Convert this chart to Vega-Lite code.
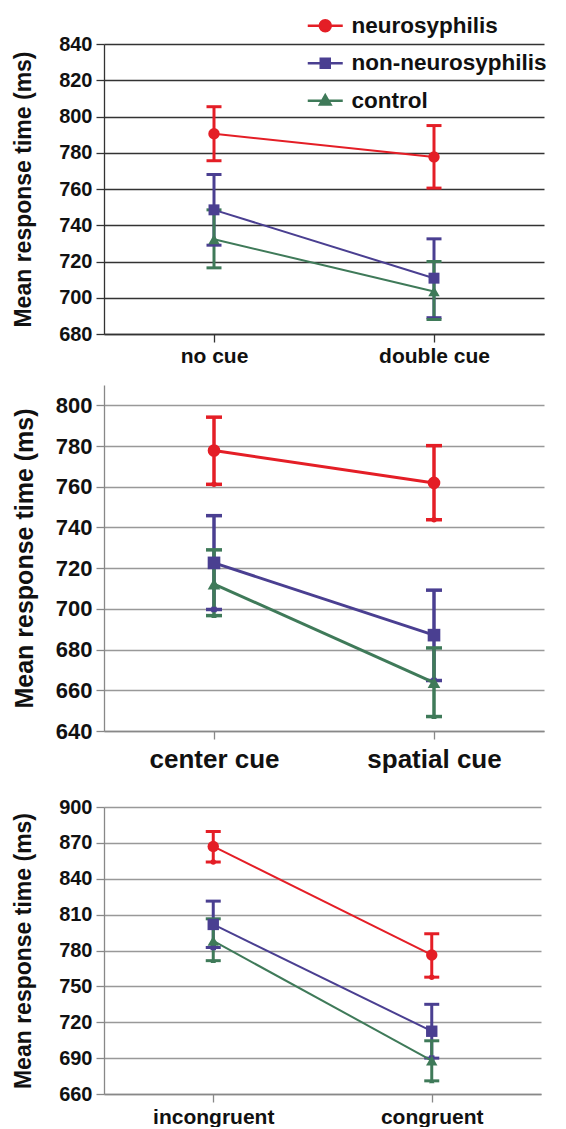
{
  "$schema": "https://vega.github.io/schema/vega-lite/v6.json",
  "background": "white",
  "padding": {"left": 11, "top": 14, "right": 0, "bottom": 0},
  "spacing": 19,
  "config": {"font": "Liberation Sans", "view": {"stroke": null}},
  "datasets": {
    "d": [
      {"panel": "A", "cond": "no cue", "group": "neurosyphilis", "mean": 790.5, "lo": 775.6, "hi": 805.4},
      {"panel": "A", "cond": "double cue", "group": "neurosyphilis", "mean": 777.7, "lo": 760.5, "hi": 795},
      {"panel": "A", "cond": "no cue", "group": "non-neurosyphilis", "mean": 748.5, "lo": 729, "hi": 768},
      {"panel": "A", "cond": "double cue", "group": "non-neurosyphilis", "mean": 710.8, "lo": 689, "hi": 732.5},
      {"panel": "A", "cond": "no cue", "group": "control", "mean": 732.3, "lo": 716.5, "hi": 748.5},
      {"panel": "A", "cond": "double cue", "group": "control", "mean": 703.5, "lo": 688, "hi": 720},
      {"panel": "B", "cond": "center cue", "group": "neurosyphilis", "mean": 777.8, "lo": 761.2, "hi": 794.2},
      {"panel": "B", "cond": "spatial cue", "group": "neurosyphilis", "mean": 761.9, "lo": 743.8, "hi": 780.2},
      {"panel": "B", "cond": "center cue", "group": "non-neurosyphilis", "mean": 722.6, "lo": 699.7, "hi": 745.8},
      {"panel": "B", "cond": "spatial cue", "group": "non-neurosyphilis", "mean": 687.1, "lo": 664.8, "hi": 709.2},
      {"panel": "B", "cond": "center cue", "group": "control", "mean": 712.2, "lo": 696.7, "hi": 729},
      {"panel": "B", "cond": "spatial cue", "group": "control", "mean": 663.8, "lo": 647.1, "hi": 680.8},
      {"panel": "C", "cond": "incongruent", "group": "neurosyphilis", "mean": 867, "lo": 854, "hi": 879.5},
      {"panel": "C", "cond": "congruent", "group": "neurosyphilis", "mean": 776.3, "lo": 757.7, "hi": 794},
      {"panel": "C", "cond": "incongruent", "group": "non-neurosyphilis", "mean": 801.8, "lo": 782.5, "hi": 821.3},
      {"panel": "C", "cond": "congruent", "group": "non-neurosyphilis", "mean": 712.5, "lo": 690, "hi": 735},
      {"panel": "C", "cond": "incongruent", "group": "control", "mean": 788, "lo": 771.5, "hi": 806.5},
      {"panel": "C", "cond": "congruent", "group": "control", "mean": 688, "lo": 671, "hi": 704.5}
    ]
  },
  "resolve": {"legend": {"color": "independent", "shape": "independent"}},
  "vconcat": [
    {
      "width": 440,
      "height": 290,
      "data": {"name": "d"},
      "transform": [{"filter": "datum.panel === 'A'"}],
      "encoding": {
        "x": {"field": "cond", "type": "nominal", "sort": ["no cue", "double cue"],
          "scale": {"type": "point", "padding": 0.5},
          "axis": {"title": null, "labelAngle": 0, "labelFontSize": 21, "labelFontWeight": "bold", "labelColor": "#111", "domainColor": "#333", "domainWidth": 1.3, "tickColor": "#333", "tickWidth": 1.3, "tickSize": 8, "labelPadding": 3}},
        "color": {"field": "group", "type": "nominal",
          "scale": {"domain": ["neurosyphilis", "non-neurosyphilis", "control"], "range": ["#e41e26", "#4a3f91", "#3f7a59"]},
          "legend": {"orient": "none", "legendX": 210, "legendY": -29.5, "padding": 0, "title": null, "labelFontSize": 22.5, "labelFontWeight": "bold", "labelColor": "#111", "labelLimit": 0, "symbolSize": 100, "symbolStrokeWidth": 2.5, "rowPadding": 14.5, "labelOffset": 15, "symbolOpacity": 1,
            "encode": {"symbols": {"update": {
              "shape": {"signal": "datum.value === 'neurosyphilis' ? 'M-3.5,0H3.5M1.1,0A1.1,1.1 0 1,1 -1.1,0A1.1,1.1 0 1,1 1.1,0Z' : datum.value === 'non-neurosyphilis' ? 'M-3.5,0H3.5M-0.9,-0.9H0.9V0.9H-0.9Z' : 'M-3.5,0H3.5M0,-1.1L1.05,0.75H-1.05Z'"},
              "fill": {"scale": "color", "field": "value"},
              "stroke": {"scale": "color", "field": "value"},
              "strokeWidth": {"value": 2.5},
              "opacity": {"value": 1}}}}}
        }
      },
      "layer": [
        {"mark": {"type": "rule", "strokeWidth": 3},
          "encoding": {"y": {"field": "lo", "type": "quantitative", "scale": {"domain": [680, 840], "nice": false},
            "axis": {"title": "Mean response time (ms)", "titleFontSize": 23, "titleFontWeight": "bold", "titleColor": "#111", "titlePadding": 17,
              "labelFontSize": 20, "labelFontWeight": "bold", "labelColor": "#111", "labelOverlap": false, "values": [680, 700, 720, 740, 760, 780, 800, 820, 840], "tickCount": 20,
              "minExtent": 52, "maxExtent": 52,
              "grid": true, "gridColor": "#333", "gridWidth": 1.3, "domainColor": "#333", "domainWidth": 1.3, "tickColor": "#333", "tickWidth": 1.3, "tickSize": 8, "labelPadding": 4}},
            "y2": {"field": "hi"}}},
        {"mark": {"type": "tick", "thickness": 3, "size": 15, "opacity": 1}, "encoding": {"y": {"field": "lo", "type": "quantitative", "title": "Mean response time (ms)"}}},
        {"mark": {"type": "tick", "thickness": 3, "size": 15, "opacity": 1}, "encoding": {"y": {"field": "hi", "type": "quantitative", "title": "Mean response time (ms)"}}},
        {"mark": {"type": "line", "strokeWidth": 2}, "encoding": {"y": {"field": "mean", "type": "quantitative", "title": "Mean response time (ms)"}, "detail": {"field": "group"}}},
        {"transform": [{"filter": "datum.group === 'neurosyphilis'"}], "mark": {"type": "point", "filled": true, "opacity": 1, "size": 130, "shape": "circle"}, "encoding": {"y": {"field": "mean", "type": "quantitative", "title": "Mean response time (ms)"}}},
        {"transform": [{"filter": "datum.group === 'non-neurosyphilis'"}], "mark": {"type": "point", "filled": true, "opacity": 1, "size": 120, "shape": "square"}, "encoding": {"y": {"field": "mean", "type": "quantitative", "title": "Mean response time (ms)"}}},
        {"transform": [{"filter": "datum.group === 'control'"}], "mark": {"type": "point", "filled": true, "opacity": 1, "size": 130, "shape": "triangle-up"}, "encoding": {"y": {"field": "mean", "type": "quantitative", "title": "Mean response time (ms)"}}}
      ]
    },
    {
      "width": 440,
      "height": 346,
      "data": {"name": "d"},
      "transform": [{"filter": "datum.panel === 'B'"}],
      "encoding": {
        "x": {"field": "cond", "type": "nominal", "sort": ["center cue", "spatial cue"],
          "scale": {"type": "point", "padding": 0.5},
          "axis": {"title": " ", "titleFontSize": 6, "titlePadding": 0, "labelAngle": 0, "labelFontSize": 26, "labelFontWeight": "bold", "labelColor": "#111", "domainColor": "#888", "domainWidth": 1.3, "tickColor": "#888", "tickWidth": 1.3, "tickSize": 8, "labelPadding": 7}},
        "color": {"field": "group", "type": "nominal",
          "scale": {"domain": ["neurosyphilis", "non-neurosyphilis", "control"], "range": ["#e41e26", "#4a3f91", "#3f7a59"]}, "legend": null},
        "shape": {"field": "group", "type": "nominal",
          "scale": {"domain": ["neurosyphilis", "non-neurosyphilis", "control"], "range": ["circle", "square", "triangle-up"]}, "legend": null}
      },
      "layer": [
        {"mark": {"type": "rule", "strokeWidth": 3.5},
          "encoding": {"y": {"field": "lo", "type": "quantitative", "scale": {"domain": [640, 810], "nice": false},
            "axis": {"title": "Mean response time (ms)", "titleFontSize": 25, "titleFontWeight": "bold", "titleColor": "#111", "titlePadding": 15,
              "labelFontSize": 22, "labelFontWeight": "bold", "labelColor": "#111", "labelOverlap": false, "values": [640, 660, 680, 700, 720, 740, 760, 780, 800], "tickCount": 20,
              "minExtent": 52, "maxExtent": 52,
              "grid": true, "gridColor": "#999", "gridWidth": 1.3, "domainColor": "#888", "domainWidth": 1.3, "tickColor": "#888", "tickWidth": 1.3, "tickSize": 8, "labelPadding": 4}},
            "y2": {"field": "hi"}}},
        {"mark": {"type": "tick", "thickness": 3.5, "size": 16, "opacity": 1}, "encoding": {"y": {"field": "lo", "type": "quantitative", "title": "Mean response time (ms)"}}},
        {"mark": {"type": "tick", "thickness": 3.5, "size": 16, "opacity": 1}, "encoding": {"y": {"field": "hi", "type": "quantitative", "title": "Mean response time (ms)"}}},
        {"mark": {"type": "line", "strokeWidth": 3}, "encoding": {"y": {"field": "mean", "type": "quantitative", "title": "Mean response time (ms)"}, "detail": {"field": "group"}}},
        {"mark": {"type": "point", "filled": true, "opacity": 1, "size": 160}, "encoding": {"y": {"field": "mean", "type": "quantitative", "title": "Mean response time (ms)"}}}
      ]
    },
    {
      "width": 437,
      "height": 287,
      "data": {"name": "d"},
      "transform": [{"filter": "datum.panel === 'C'"}],
      "encoding": {
        "x": {"field": "cond", "type": "nominal", "sort": ["incongruent", "congruent"],
          "scale": {"type": "point", "padding": 0.5},
          "axis": {"title": null, "labelAngle": 0, "labelFontSize": 21, "labelFontWeight": "bold", "labelColor": "#111", "domainColor": "#888", "domainWidth": 1.3, "tickColor": "#888", "tickWidth": 1.3, "tickSize": 8, "labelPadding": 4}},
        "color": {"field": "group", "type": "nominal",
          "scale": {"domain": ["neurosyphilis", "non-neurosyphilis", "control"], "range": ["#e41e26", "#4a3f91", "#3f7a59"]}, "legend": null},
        "shape": {"field": "group", "type": "nominal",
          "scale": {"domain": ["neurosyphilis", "non-neurosyphilis", "control"], "range": ["circle", "square", "triangle-up"]}, "legend": null}
      },
      "layer": [
        {"mark": {"type": "rule", "strokeWidth": 3},
          "encoding": {"y": {"field": "lo", "type": "quantitative", "scale": {"domain": [660, 900], "nice": false},
            "axis": {"title": "Mean response time (ms)", "titleFontSize": 23, "titleFontWeight": "bold", "titleColor": "#111", "titlePadding": 17,
              "labelFontSize": 20, "labelFontWeight": "bold", "labelColor": "#111", "labelOverlap": false, "values": [660, 690, 720, 750, 780, 810, 840, 870, 900], "tickCount": 20,
              "minExtent": 52, "maxExtent": 52,
              "grid": true, "gridColor": "#999", "gridWidth": 1.3, "domainColor": "#888", "domainWidth": 1.3, "tickColor": "#888", "tickWidth": 1.3, "tickSize": 8, "labelPadding": 4}},
            "y2": {"field": "hi"}}},
        {"mark": {"type": "tick", "thickness": 3, "size": 15, "opacity": 1}, "encoding": {"y": {"field": "lo", "type": "quantitative", "title": "Mean response time (ms)"}}},
        {"mark": {"type": "tick", "thickness": 3, "size": 15, "opacity": 1}, "encoding": {"y": {"field": "hi", "type": "quantitative", "title": "Mean response time (ms)"}}},
        {"mark": {"type": "line", "strokeWidth": 2}, "encoding": {"y": {"field": "mean", "type": "quantitative", "title": "Mean response time (ms)"}, "detail": {"field": "group"}}},
        {"mark": {"type": "point", "filled": true, "opacity": 1, "size": 130}, "encoding": {"y": {"field": "mean", "type": "quantitative", "title": "Mean response time (ms)"}}}
      ]
    }
  ]
}
